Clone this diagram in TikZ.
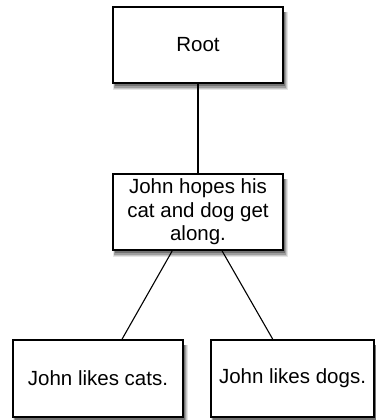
\documentclass[tikz,border=0pt]{standalone}
\usepackage{fontspec}
\setmainfont{Liberation Sans}
\usetikzlibrary{calc}
\begin{document}
\begin{tikzpicture}[x=1pt,y=-1pt,
  treebox/.style={draw=black, line width=1.6pt, fill=white, inner sep=0pt,
    font=\fontsize{20.5}{23.5}\selectfont, align=center},
  edge/.style={draw=black, line width=1.1pt}]
  \useasboundingbox (0,0) rectangle (375,420);
  % soft drop shadows, drawn first so the boxes cover them
  \foreach \xa/\ya/\xb/\yb in {113/7/283/83, 113/174/283/250, 13/340/183/417, 211/340/374/417}{
    \fill[black!10] (\xa,\ya+5)   rectangle (\xb+5,\yb+7);
    \fill[black!22] (\xa+1,\ya+5) rectangle (\xb+4,\yb+5.5);
    \fill[black!38] (\xa+1,\ya+5) rectangle (\xb+3,\yb+4.5);
    \fill[black!55] (\xa+2,\ya+5) rectangle (\xb+2,\yb+3);
  }
  % tree nodes
  \node[treebox, minimum width=170pt, minimum height=76pt] (root) at (198,45) {Root};
  \node[treebox, minimum width=170pt, minimum height=76pt] (mid) at (198,212)
    {John hopes his\\cat and dog get\\along.};
  \node[treebox, minimum width=170pt, minimum height=77pt] (cats) at (98,378.5) {John likes cats.};
  \node[treebox, minimum width=163pt, minimum height=77pt] (dogs) at (292.5,378.5) {John likes dogs.};
  % edges
  \draw[edge] (root.south) -- (mid.north);
  \draw[edge] ($(mid.south west)!0.35!(mid.south east)$) -- ($(cats.north west)!0.64!(cats.north east)$);
  \draw[edge] ($(mid.south west)!0.64!(mid.south east)$) -- ($(dogs.north west)!0.38!(dogs.north east)$);
\end{tikzpicture}
\end{document}
